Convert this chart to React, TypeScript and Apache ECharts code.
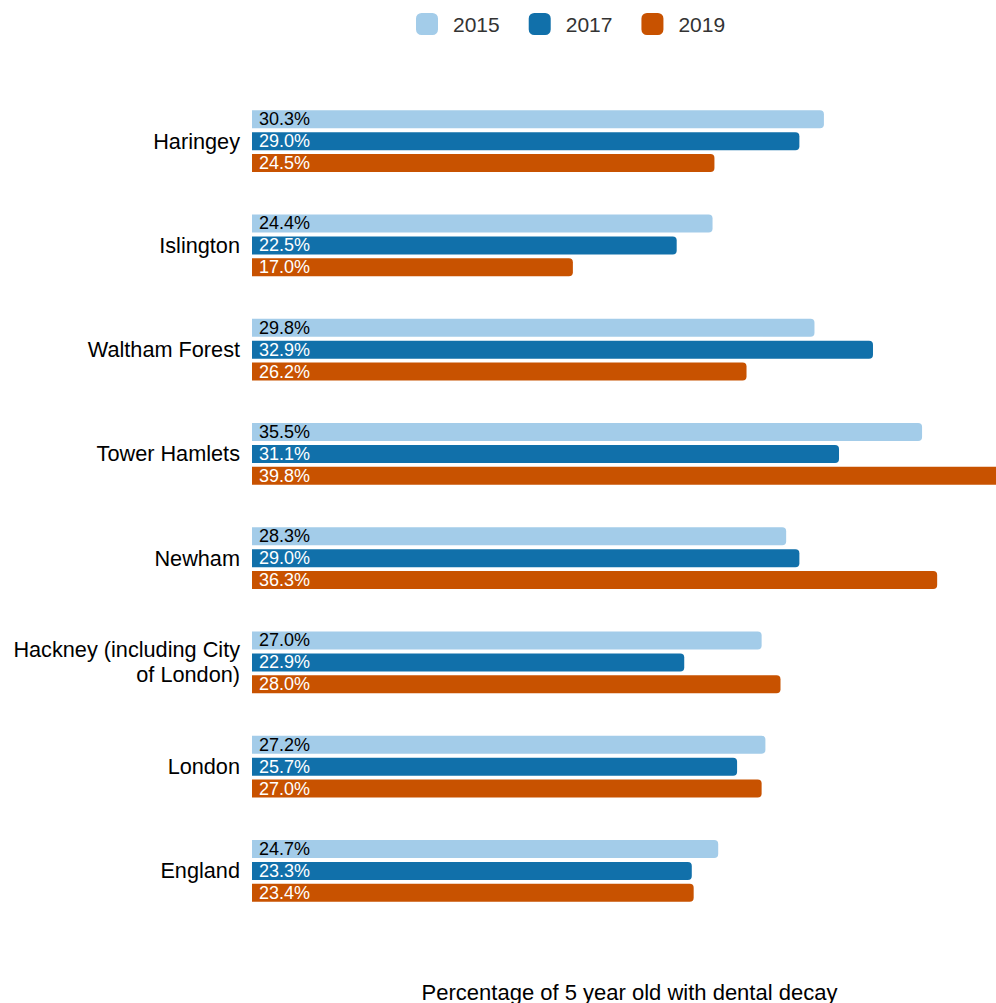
import React, { useEffect, useRef } from "react";
import * as echarts from "echarts";

const categories = [
  "Haringey",
  "Islington",
  "Waltham Forest",
  "Tower Hamlets",
  "Newham",
  "Hackney (including City\nof London)",
  "London",
  "England",
];
const years = ["2015", "2017", "2019"];
const values2015 = [30.3, 24.4, 29.8, 35.5, 28.3, 27.0, 27.2, 24.7];
const values2017 = [29.0, 22.5, 32.9, 31.1, 29.0, 22.9, 25.7, 23.3];
const values2019 = [24.5, 17.0, 26.2, 39.8, 36.3, 28.0, 27.0, 23.4];
const colors = ["#a3cce9", "#1170aa", "#c85200"];
const labelColors = ["#000000", "#ffffff", "#ffffff"];
const axisTitle = "Percentage of 5 year old with dental decay";

export default function App() {
  const ref = useRef<HTMLDivElement>(null);
  useEffect(() => {
    if (!ref.current) return;
    const chart = echarts.init(ref.current, undefined, { renderer: "svg" });
    const data = [values2015, values2017, values2019];
    chart.setOption({
      animation: false,
      textStyle: { fontFamily: "Liberation Sans, Arial, sans-serif" },
      legend: {
        left: 411,
        top: 8,
        itemWidth: 22,
        itemHeight: 22,
        itemGap: 29,
        icon: "roundRect",
        textStyle: { fontSize: 21, color: "#333333", padding: [0, 0, 0, 10] },
        data: years,
      },
      grid: {
        left: 252,
        right: -11,
        top: 89,
        bottom: 80,
        containLabel: false,
        outerBoundsMode: "none",
      },
      xAxis: {
        type: "value",
        min: 0,
        max: 40,
        axisLine: { show: false },
        axisTick: { show: false },
        axisLabel: { show: false },
        splitLine: { show: false },
        name: axisTitle,
        nameLocation: "middle",
        nameGap: 58,
        nameTextStyle: { fontSize: 22, color: "#000000" },
      },
      yAxis: {
        type: "category",
        inverse: true,
        data: categories,
        axisLine: { show: false },
        axisTick: { show: false },
        axisLabel: {
          fontSize: 21.7,
          color: "#000000",
          margin: 12,
          align: "right",
          lineHeight: 25,
        },
      },
      series: years.map((y, i) => ({
        name: y,
        type: "bar",
        data: data[i],
        barWidth: 18,
        barGap: "22%",
        barCategoryGap: "40%",
        itemStyle: { color: colors[i], borderRadius: [0, 4, 4, 0] },
        label: {
          show: true,
          position: "insideLeft",
          distance: 7,
          fontSize: 18,
          color: labelColors[i],
          formatter: (p: any) => p.value.toFixed(1) + "%",
        },
      })),
    });
    return () => chart.dispose();
  }, []);
  return (
    <div
      ref={ref}
      style={{ position: "absolute", left: 0, top: 0, width: 996, height: 1003 }}
    />
  );
}
